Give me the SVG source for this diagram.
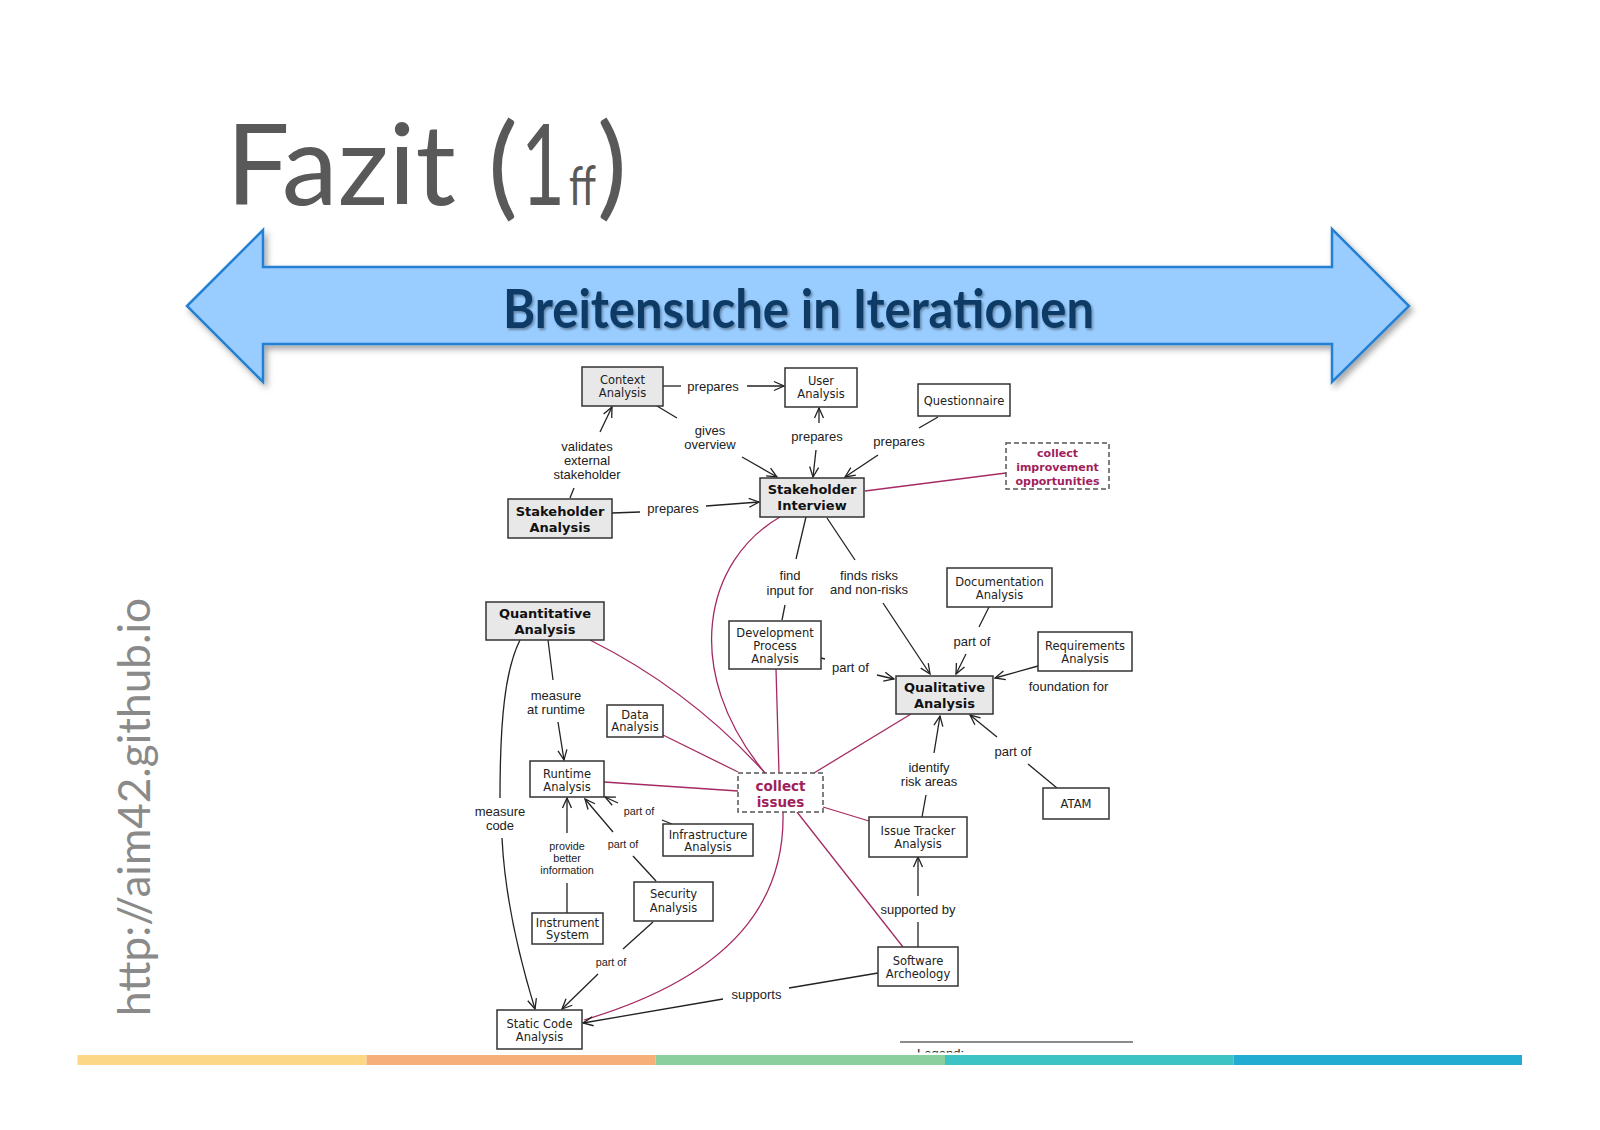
<svg xmlns="http://www.w3.org/2000/svg" width="1600" height="1130" viewBox="0 0 1600 1130">
<defs>
<style>
.box{fill:#fff;stroke:#333;stroke-width:1.5}
.gbox{fill:#e8e8e8;stroke:#333;stroke-width:1.5}
.dbox{fill:#fff;stroke:#555;stroke-width:1.5;stroke-dasharray:5 3}
.nt{font-family:"DejaVu Sans",Verdana,sans-serif;font-size:11.5px;fill:#222;text-anchor:middle}
.nb{font-family:"DejaVu Sans",Verdana,sans-serif;font-size:13px;font-weight:bold;fill:#111;text-anchor:middle}
.mt{font-family:"DejaVu Sans",Verdana,sans-serif;font-weight:bold;fill:#a01f5c;text-anchor:middle}
.el{font-family:"Liberation Sans",Arial,sans-serif;font-size:13px;fill:#222;text-anchor:middle}
.es{font-family:"Liberation Sans",Arial,sans-serif;font-size:10.8px;fill:#222;text-anchor:middle}
.ln{fill:none;stroke:#222;stroke-width:1.3}
.ar{fill:none;stroke:#222;stroke-width:1.3;marker-end:url(#arr)}
.mg{fill:none;stroke:#a52a63;stroke-width:1.3}
.tt{font-family:Lato,"Open Sans",sans-serif;fill:#595959}
</style>
<marker id="arr" viewBox="0 0 12 12" refX="11" refY="6" markerWidth="12" markerHeight="12" markerUnits="userSpaceOnUse" orient="auto">
<path d="M1,1.5 L11,6 L1,10.5" fill="none" stroke="#222" stroke-width="1.3"/>
</marker>
<filter id="sh" x="-10%" y="-20%" width="120%" height="150%">
<feDropShadow dx="3" dy="4" stdDeviation="3" flood-color="#000" flood-opacity="0.35"/>
</filter>
<filter id="tsh" x="-5%" y="-20%" width="110%" height="150%">
<feDropShadow dx="1.5" dy="2" stdDeviation="1.2" flood-color="#000" flood-opacity="0.35"/>
</filter>
<clipPath id="legclip"><rect x="880" y="1030" width="260" height="22.5"/></clipPath>
</defs>
<rect x="0" y="0" width="1600" height="1130" fill="#fff"/>

<g id="title">
<text class="tt" y="205" font-size="112"><tspan x="226" textLength="230" lengthAdjust="spacingAndGlyphs">Fazit</tspan><tspan x="488">(</tspan><tspan x="521" textLength="44" lengthAdjust="spacingAndGlyphs">1</tspan><tspan x="569" font-size="55" textLength="27" lengthAdjust="spacingAndGlyphs">ff</tspan><tspan x="597">)</tspan></text>
</g>

<g id="banner">
<polygon points="187,306 263,230 263,267 1332,267 1332,229 1409,306 1332,382 1332,344 263,344 263,382" fill="#99ccff" stroke="#2580d2" stroke-width="2.5" stroke-linejoin="miter" filter="url(#sh)"/>
<text x="503" y="328" font-family="Lato,'Open Sans',sans-serif" font-size="54" font-weight="bold" fill="#0d3a66" textLength="591" lengthAdjust="spacingAndGlyphs" filter="url(#tsh)">Breitensuche in Iterationen</text>
</g>

<g id="url">
<text transform="translate(150,1016) rotate(-90)" x="0" y="0" font-family="Lato,'Open Sans',sans-serif" font-size="44" fill="#8a8a8a" textLength="418" lengthAdjust="spacingAndGlyphs">http://aim42.github.io</text>
</g>

<g id="connectors">
<line class="mg" x1="865" y1="491" x2="1006" y2="473"/>
<path class="mg" d="M780,517 C705,560 680,670 765,773"/>
<path class="mg" d="M590,640 Q690,690 765,773"/>
<line class="mg" x1="663" y1="735" x2="738" y2="772"/>
<line class="mg" x1="776" y1="669" x2="779" y2="773"/>
<line class="mg" x1="911" y1="714" x2="814" y2="773"/>
<line class="mg" x1="604" y1="782" x2="738" y2="791"/>
<line class="mg" x1="823" y1="807" x2="869" y2="821"/>
<line class="mg" x1="797" y1="812" x2="903" y2="947"/>
<path class="mg" d="M783,812 C785,900 735,975 584,1020"/>
<line class="ln" x1="663" y1="386" x2="681" y2="386"/>
<line class="ar" x1="747" y1="386" x2="784" y2="386"/>
<line class="ln" x1="657" y1="406" x2="677" y2="418"/>
<line class="ar" x1="742" y1="457" x2="777" y2="477"/>
<line class="ln" x1="570" y1="498" x2="574" y2="488"/>
<line class="ar" x1="600" y1="432" x2="612" y2="407"/>
<line class="ln" x1="612" y1="513" x2="640" y2="512"/>
<line class="ar" x1="706" y1="506" x2="759" y2="502"/>
<line class="ar" x1="819" y1="423" x2="819" y2="408"/>
<line class="ar" x1="816" y1="450" x2="813" y2="477"/>
<line class="ln" x1="938" y1="417" x2="919" y2="428"/>
<line class="ar" x1="878" y1="455" x2="845" y2="477"/>
<line class="ln" x1="806" y1="517" x2="796" y2="559"/>
<line class="ln" x1="785" y1="605" x2="782" y2="620"/>
<line class="ln" x1="827" y1="518" x2="855" y2="560"/>
<line class="ar" x1="883" y1="603" x2="930" y2="674"/>
<line class="ln" x1="989" y1="607" x2="979" y2="627"/>
<line class="ar" x1="966" y1="654" x2="956" y2="674"/>
<line class="ar" x1="1038" y1="666" x2="995" y2="678"/>
<line class="ln" x1="821" y1="658" x2="825" y2="659"/>
<line class="ar" x1="877" y1="675" x2="894" y2="679"/>
<line class="ln" x1="922" y1="817" x2="926" y2="795"/>
<line class="ar" x1="934" y1="753" x2="940" y2="716"/>
<line class="ln" x1="1057" y1="788" x2="1028" y2="764"/>
<line class="ar" x1="997" y1="737" x2="970" y2="715"/>
<line class="ln" x1="548" y1="640" x2="553" y2="680"/>
<line class="ar" x1="558" y1="722" x2="564" y2="760"/>
<path class="ln" d="M520,640 C505,670 500,720 500,798"/>
<path class="ar" d="M502,838 C505,900 520,960 535,1009"/>
<line class="ln" x1="567" y1="913" x2="567" y2="883"/>
<line class="ar" x1="567" y1="833" x2="567" y2="798"/>
<line class="ln" x1="656" y1="881" x2="633" y2="856"/>
<line class="ar" x1="613" y1="832" x2="585" y2="799"/>
<line class="ln" x1="672" y1="824" x2="662" y2="820"/>
<line class="ar" x1="618" y1="803" x2="605" y2="797"/>
<line class="ln" x1="653" y1="922" x2="623" y2="949"/>
<line class="ar" x1="598" y1="974" x2="562" y2="1009"/>
<line class="ln" x1="878" y1="973" x2="789" y2="988"/>
<line class="ar" x1="723" y1="999" x2="583" y2="1023"/>
<line class="ln" x1="918" y1="947" x2="918" y2="922"/>
<line class="ar" x1="918" y1="896" x2="918" y2="857"/>
</g>

<g id="edge-labels">
<text class="el" x="713" y="390.5">prepares</text>
<text class="el" x="710" y="434.5">gives</text>
<text class="el" x="710" y="448.5">overview</text>
<text class="el" x="587" y="450.5">validates</text>
<text class="el" x="587" y="464.5">external</text>
<text class="el" x="587" y="479">stakeholder</text>
<text class="el" x="817" y="440.5">prepares</text>
<text class="el" x="899" y="445.5">prepares</text>
<text class="el" x="673" y="512.5">prepares</text>
<text class="el" x="790" y="579.5">find</text>
<text class="el" x="790" y="594.5">input for</text>
<text class="el" x="869" y="579.5">finds risks</text>
<text class="el" x="869" y="593.5">and non-risks</text>
<text class="el" x="972" y="645.5">part of</text>
<text class="el" x="850.5" y="671.5">part of</text>
<text class="el" x="1068.5" y="690.5">foundation for</text>
<text class="el" x="556" y="699.5">measure</text>
<text class="el" x="556" y="713.5">at runtime</text>
<text class="el" x="929" y="771.5">identify</text>
<text class="el" x="929" y="785.5">risk areas</text>
<text class="el" x="1013" y="755.5">part of</text>
<text class="el" x="500" y="815.5">measure</text>
<text class="el" x="500" y="829.5">code</text>
<text class="es" x="639" y="815">part of</text>
<text class="es" x="623" y="848">part of</text>
<text class="es" x="567" y="850">provide</text>
<text class="es" x="567" y="862">better</text>
<text class="es" x="567" y="874">information</text>
<text class="el" x="918" y="913.5">supported by</text>
<text class="es" x="611" y="966">part of</text>
<text class="el" x="756.5" y="998.5">supports</text>
</g>

<g id="context-analysis"><rect class="gbox" x="582" y="367" width="81" height="39"/><text class="nt" x="622.5" y="384" font-size="12">Context</text><text class="nt" x="622.5" y="397" font-size="12">Analysis</text></g>
<g id="user-analysis"><rect class="box" x="785" y="368" width="72" height="39"/><text class="nt" x="821" y="385" font-size="12">User</text><text class="nt" x="821" y="398" font-size="12">Analysis</text></g>
<g id="questionnaire"><rect class="box" x="918" y="384" width="92" height="32"/><text class="nt" x="964" y="404.5" font-size="10.5">Questionnaire</text></g>
<g id="collect-improvement"><rect class="dbox" x="1006" y="443" width="103" height="46"/><text class="mt" x="1057.5" y="457" font-size="11">collect</text><text class="mt" x="1057.5" y="471" font-size="11">improvement</text><text class="mt" x="1057.5" y="485" font-size="11">opportunities</text></g>
<g id="stakeholder-analysis"><rect class="gbox" x="508" y="499" width="104" height="39"/><text class="nb" x="560" y="515.5">Stakeholder</text><text class="nb" x="560" y="531.5">Analysis</text></g>
<g id="stakeholder-interview"><rect class="gbox" x="760" y="478" width="104" height="39"/><text class="nb" x="812" y="493.5">Stakeholder</text><text class="nb" x="812" y="509.5">Interview</text></g>
<g id="quantitative-analysis"><rect class="gbox" x="486" y="602" width="118" height="38"/><text class="nb" x="545" y="617.5">Quantitative</text><text class="nb" x="545" y="633.5">Analysis</text></g>
<g id="development-process-analysis"><rect class="box" x="729" y="621" width="92" height="48"/><text class="nt" x="775" y="637">Development</text><text class="nt" x="775" y="650">Process</text><text class="nt" x="775" y="663">Analysis</text></g>
<g id="documentation-analysis"><rect class="box" x="947" y="568" width="105" height="39"/><text class="nt" x="999.5" y="586">Documentation</text><text class="nt" x="999.5" y="598.5">Analysis</text></g>
<g id="requirements-analysis"><rect class="box" x="1038" y="632" width="94" height="39"/><text class="nt" x="1085" y="650">Requirements</text><text class="nt" x="1085" y="662.5">Analysis</text></g>
<g id="qualitative-analysis"><rect class="gbox" x="896" y="676" width="97" height="38"/><text class="nb" x="944.5" y="691.5">Qualitative</text><text class="nb" x="944.5" y="707.5">Analysis</text></g>
<g id="data-analysis"><rect class="box" x="607" y="705" width="56" height="32"/><text class="nt" x="635" y="718.8" font-size="10.5">Data</text><text class="nt" x="635" y="730.8" font-size="10.5">Analysis</text></g>
<g id="runtime-analysis"><rect class="box" x="530" y="761" width="74" height="36"/><text class="nt" x="567" y="778">Runtime</text><text class="nt" x="567" y="791">Analysis</text></g>
<g id="collect-issues"><rect class="dbox" x="738" y="773" width="85" height="39"/><text class="mt" x="780.5" y="790.5" font-size="13.5">collect</text><text class="mt" x="780.5" y="806.5" font-size="13.5">issues</text></g>
<g id="infrastructure-analysis"><rect class="box" x="663" y="824" width="90" height="32"/><text class="nt" x="708" y="838.8" font-size="10.5">Infrastructure</text><text class="nt" x="708" y="850.8" font-size="10.5">Analysis</text></g>
<g id="issue-tracker-analysis"><rect class="box" x="869" y="817" width="98" height="40"/><text class="nt" x="918" y="835.2">Issue Tracker</text><text class="nt" x="918" y="847.5">Analysis</text></g>
<g id="atam"><rect class="box" x="1043" y="788" width="66" height="31"/><text class="nt" x="1076" y="808.3" font-size="12">ATAM</text></g>
<g id="security-analysis"><rect class="box" x="634" y="882" width="79" height="39"/><text class="nt" x="673.5" y="898">Security</text><text class="nt" x="673.5" y="912">Analysis</text></g>
<g id="instrument-system"><rect class="box" x="532" y="913" width="71" height="31"/><text class="nt" x="567.5" y="926.8" font-size="10.5">Instrument</text><text class="nt" x="567.5" y="938.8" font-size="10.5">System</text></g>
<g id="software-archeology"><rect class="box" x="878" y="947" width="80" height="39"/><text class="nt" x="918" y="965">Software</text><text class="nt" x="918" y="978">Archeology</text></g>
<g id="static-code-analysis"><rect class="box" x="497" y="1010" width="85" height="39"/><text class="nt" x="539.5" y="1028">Static Code</text><text class="nt" x="539.5" y="1041">Analysis</text></g>

<g id="legend">
<line x1="900" y1="1042" x2="1133" y2="1042" stroke="#666" stroke-width="1.5"/>
<text clip-path="url(#legclip)" x="917" y="1058" font-family="'Liberation Sans',Arial,sans-serif" font-size="13" fill="#222">Legend:</text>
</g>

<g id="color-bar">
<rect x="77.5" y="1055" width="289" height="10" fill="#fbd786"/>
<rect x="366.5" y="1055" width="289" height="10" fill="#f6af78"/>
<rect x="655.5" y="1055" width="289.5" height="10" fill="#8ccf9e"/>
<rect x="945" y="1055" width="288.5" height="10" fill="#3ec3c4"/>
<rect x="1233.5" y="1055" width="288.5" height="10" fill="#22acd1"/>
</g>
</svg>
